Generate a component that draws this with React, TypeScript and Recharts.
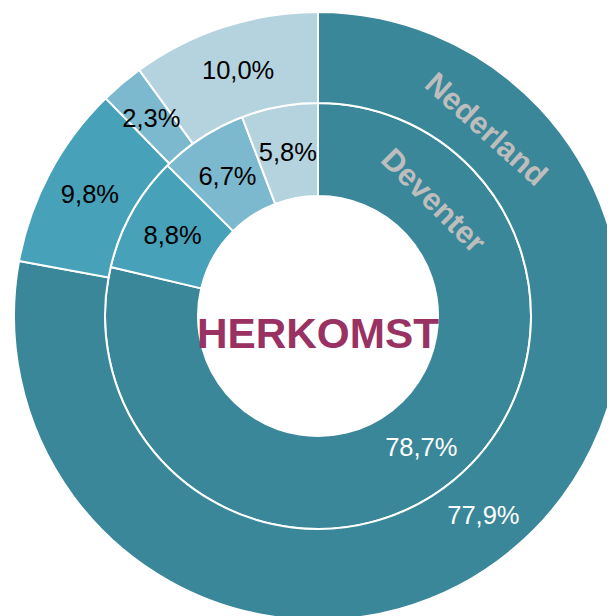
import React from "react";
import { PieChart, Pie, Cell } from "recharts";

const categories = ["Nederlands", "Westers", "Niet-westers", "Overig"];
const deventerValues = [78.7, 8.8, 6.7, 5.8];
const nederlandValues = [77.9, 9.8, 2.3, 10.0];
const seriesNames = ["Deventer", "Nederland"];
const title = "HERKOMST";
const colors = ["#3A8799", "#47A1B9", "#7DB9CE", "#B5D3DF"];

const deventerData = categories.map((c, i) => ({ name: c, value: deventerValues[i] }));
const nederlandData = categories.map((c, i) => ({ name: c, value: nederlandValues[i] }));

const RAD = Math.PI / 180;
const fmt = (v: number) => v.toFixed(1).replace(".", ",") + "%";
const FONT = "'Liberation Sans', Arial, sans-serif";

const makeLabel = (seriesName: string, nameAngle: number, nameOffset: number, showTitle: boolean) => (props: any) => {
  const { cx, cy, midAngle, innerRadius, outerRadius, value, index } = props;
  const r = (innerRadius + outerRadius) / 2;
  let x = cx + r * Math.cos(-midAngle * RAD);
  const y = cy + r * Math.sin(-midAngle * RAD);
  const text = fmt(value);
  const fs = 25.5;
  const w = text.length * 0.57 * fs;
  if (midAngle > 90 && midAngle < 180 && x + w / 2 > cx - 1) {
    x = cx - 1 - w / 2;
  }
  const fill = value > 50 ? "#ffffff" : "#000000";
  const items: any[] = [
    <text key="v" x={x} y={y} textAnchor="middle" dominantBaseline="central" fontSize={fs} fontFamily={FONT} fill={fill}>
      {text}
    </text>,
  ];
  if (index === 0) {
    const rr = r + nameOffset;
    const nx = cx + rr * Math.sin(nameAngle * RAD);
    const ny = cy - rr * Math.cos(nameAngle * RAD);
    items.push(
      <text key="n" x={nx} y={ny} textAnchor="middle" dominantBaseline="central" fontSize={31} fontWeight="bold" fontFamily={FONT} fill="#BDBDBD" transform={`rotate(${nameAngle} ${nx} ${ny})`}>
        {seriesName}
      </text>
    );
    if (showTitle) {
      items.push(
        <text key="t" x={cx} y={cy + 32} textAnchor="middle" fontSize={42.3} fontWeight="bold" fontFamily={FONT} fill="#9A3163">
          {title}
        </text>
      );
    }
  }
  return <g>{items}</g>;
};

export default function App() {
  return (
    <div style={{ margin: 0 }}>
      <PieChart width={607} height={608} margin={{ top: 0, right: 0, bottom: 0, left: 0 }}>
        <Pie
          data={deventerData}
          dataKey="value"
          cx={310}
          cy={308}
          innerRadius={120}
          outerRadius={213}
          startAngle={90}
          endAngle={-270}
          stroke="#ffffff"
          strokeWidth={2}
          labelLine={false}
          label={makeLabel(seriesNames[0], 45, -3, true)}
          isAnimationActive={false}
        >
          {deventerData.map((d, i) => (
            <Cell key={d.name} fill={colors[i]} />
          ))}
        </Pie>
        <Pie
          data={nederlandData}
          dataKey="value"
          cx={310}
          cy={308}
          innerRadius={213}
          outerRadius={304}
          startAngle={90}
          endAngle={-270}
          stroke="#ffffff"
          strokeWidth={2}
          labelLine={false}
          label={makeLabel(seriesNames[1], 42, -7, false)}
          isAnimationActive={false}
        >
          {nederlandData.map((d, i) => (
            <Cell key={d.name} fill={colors[i]} />
          ))}
        </Pie>
      </PieChart>
    </div>
  );
}
